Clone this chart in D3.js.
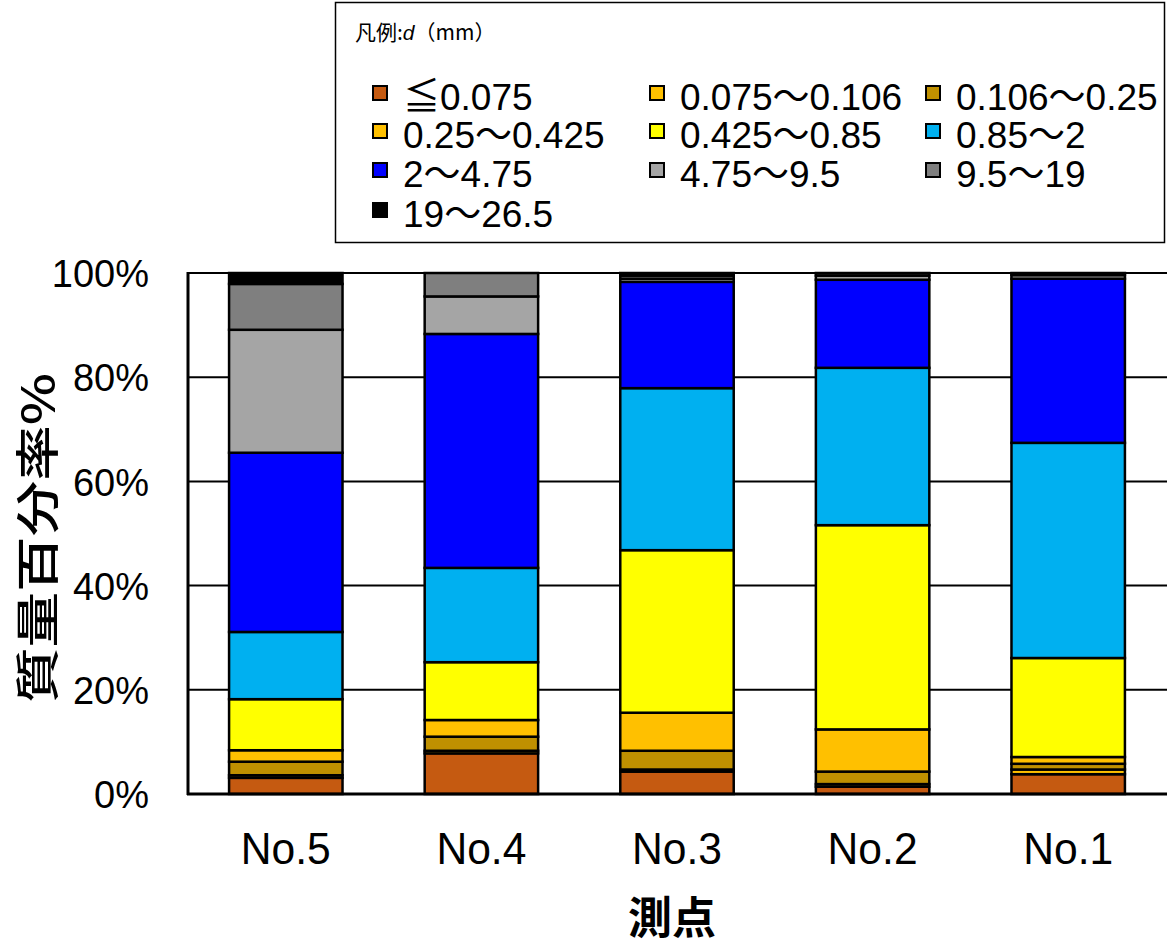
<!DOCTYPE html>
<html><head><meta charset="utf-8">
<script src="https://cdn.jsdelivr.net/npm/d3@7/dist/d3.min.js"></script>
<style>body{margin:0;background:#fff}svg{display:block}</style>
</head><body>
<svg id="c" width="1167" height="952"></svg>
<script>
const categories = ["No.5","No.4","No.3","No.2","No.1"];
const seriesNames = ["≦0.075","0.075～0.106","0.106～0.25","0.25～0.425","0.425～0.85","0.85～2","2～4.75","4.75～9.5","9.5～19","19～26.5"];
const seriesColors = ["#C55A11","#FFC000","#BF9000","#FFC000","#FFFF00","#00B0F0","#0000FF","#A5A5A5","#7F7F7F","#000000"];
// percentages per category (No.5, No.4, No.3, No.2, No.1)
const s_le0075   = [3.1, 7.8, 4.3, 1.4, 3.8];
const s_0075_0106= [0.5, 0.5, 0.4, 0.5, 0.9];
const s_0106_025 = [2.6, 2.7, 3.6, 2.4, 1.1];
const s_025_0425 = [2.2, 3.2, 7.3, 8.1, 1.3];
const s_0425_085 = [9.8, 11.1, 31.2, 39.2, 19.0];
const s_085_2    = [12.9, 18.1, 31.1, 30.2, 41.3];
const s_2_475    = [34.4, 44.9, 20.4, 16.9, 31.5];
const s_475_95   = [23.6, 7.2, 0.6, 0.8, 0.7];
const s_95_19    = [8.8, 4.5, 0.6, 0.5, 0.4];
const s_19_265   = [2.1, 0.0, 0.5, 0.0, 0.0];
const yTicks = [0, 0.2, 0.4, 0.6, 0.8, 1.0];
const yTitle = "質量百分率%";
const xTitle = "測点";

const allSeries = [s_le0075,s_0075_0106,s_0106_025,s_025_0425,s_0425_085,s_085_2,s_2_475,s_475_95,s_95_19,s_19_265];
const rows = categories.map((c,i)=>{const r={cat:c}; allSeries.forEach((s,k)=>r["k"+k]=s[i]/100); return r;});
const keys = allSeries.map((s,k)=>"k"+k);
const stacked = d3.stack().keys(keys)(rows);

const svg = d3.select("#c");
const L=188, R=1166, T=273, B=794;
const x = d3.scaleBand().domain(categories).range([L,R]).paddingInner(0.42).paddingOuter(0.21);
const y = d3.scaleLinear().domain([0,1]).range([B,T]);

// gridlines
svg.append("g").selectAll("line").data(yTicks.filter(t=>t>0)).join("line")
  .attr("x1",L).attr("x2",1167).attr("y1",d=>y(d)).attr("y2",d=>y(d))
  .attr("stroke","#000").attr("stroke-width",2);

// bars
svg.append("g").selectAll("g").data(stacked).join("g")
  .attr("fill",(d,i)=>seriesColors[i])
  .selectAll("rect").data(d=>d).join("rect")
  .attr("x",d=>x(d.data.cat)).attr("width",x.bandwidth())
  .attr("y",d=>y(d[1])).attr("height",d=>y(d[0])-y(d[1]))
  .attr("stroke","#000").attr("stroke-width",2.5);

// axes lines
svg.append("line").attr("x1",L).attr("x2",L).attr("y1",T-1).attr("y2",B+1).attr("stroke","#000").attr("stroke-width",3);
svg.append("line").attr("x1",L-1).attr("x2",1167).attr("y1",B).attr("y2",B).attr("stroke","#000").attr("stroke-width",3);

// y tick labels
const yAxis = d3.axisLeft(y).tickValues(yTicks).tickFormat(d3.format(".0%")).tickSize(0).tickPadding(39);
const ya = svg.append("g").attr("transform",`translate(${L},0)`).call(yAxis);
ya.select(".domain").remove();
ya.selectAll("text").attr("font-family","'Liberation Sans', Arial, sans-serif").attr("font-size",38).attr("fill","#000").attr("dy","0.36em");

// x tick labels
const xAxis = d3.axisBottom(x).tickSize(0).tickPadding(38);
const xa = svg.append("g").attr("transform",`translate(0,${B})`).call(xAxis);
xa.select(".domain").remove();
xa.selectAll("text").attr("font-family","'Liberation Sans', Arial, sans-serif").attr("font-size",45).attr("fill","#000")
  .attr("textLength",90).attr("lengthAdjust","spacingAndGlyphs");

// titles
svg.append("text").attr("x",672).attr("y",934).attr("text-anchor","middle")
  .attr("font-family","'Noto Sans CJK JP', sans-serif").attr("font-size",44).attr("font-weight","bold").text(xTitle);
svg.append("text").attr("transform","translate(54,538) rotate(-90)").attr("text-anchor","middle")
  .attr("font-family","'Noto Sans CJK JP', sans-serif").attr("font-size",44).attr("font-weight",500)
  .attr("textLength",330).attr("lengthAdjust","spacingAndGlyphs").text(yTitle);

// legend
const lg = svg.append("g");
lg.append("rect").attr("x",335.5).attr("y",2.5).attr("width",829).attr("height",240).attr("fill","#fff").attr("stroke","#000").attr("stroke-width",1.5);
const lt = lg.append("text").attr("x",355).attr("y",40).attr("font-family","'Noto Sans CJK JP', sans-serif").attr("font-size",21);
lt.append("tspan").text("凡例:");
lt.append("tspan").attr("font-style","italic").attr("font-family","'Liberation Sans', sans-serif").text("d");
lt.append("tspan").text("（mm）");
const colX=[373,650,926], rowY=[110,148,187,227];
seriesNames.forEach((n,i)=>{
  const cx=colX[i%3], ry=rowY[Math.floor(i/3)];
  lg.append("rect").attr("x",cx).attr("y",ry-24).attr("width",14).attr("height",14)
    .attr("fill",seriesColors[i]).attr("stroke","#000").attr("stroke-width",2);
  lg.append("text").attr("x",cx+30).attr("y",ry).attr("font-family","'Liberation Sans', 'Noto Sans CJK JP', sans-serif")
    .attr("font-size",37).text(n);
});
</script>
</body></html>
